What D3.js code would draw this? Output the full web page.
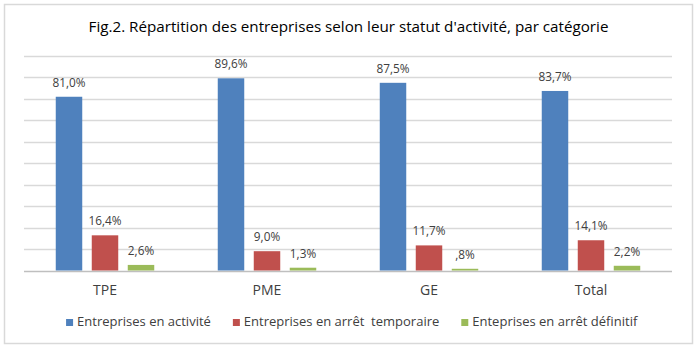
<!DOCTYPE html>
<html>
<head>
<meta charset="utf-8">
<script src="https://cdn.jsdelivr.net/npm/d3@7"></script>
<style>
  body { margin: 0; background: #fff; }
  svg { display: block; }
</style>
</head>
<body>
<div id="chart"></div>
<script>
// data
var categories = ["TPE", "PME", "GE", "Total"];
var seriesNames = [
  "Entreprises en activité",
  "Entreprises en arrêt  temporaire",
  "Enteprises en arrêt définitif"
];
var activite = [81.0, 89.6, 87.5, 83.7];
var arretTemporaire = [16.4, 9.0, 11.7, 14.1];
var arretDefinitif = [2.6, 1.3, 0.8, 2.2];
var valueLabels = [
  ["81,0%", "89,6%", "87,5%", "83,7%"],
  ["16,4%", "9,0%", "11,7%", "14,1%"],
  ["2,6%", "1,3%", ",8%", "2,2%"]
];
var yTicks = [0, 10, 20, 30, 40, 50, 60, 70, 80, 90, 100];

var width = 700, height = 350;
var margin = { top: 56, right: 28, bottom: 79.5, left: 24 };
var font = "'Open Sans', 'Noto Sans', sans-serif";
var colors = ["#4f81bd", "#c0504d", "#9bbb59"];

var seriesValues = [activite, arretTemporaire, arretDefinitif];

var svg = d3.select("#chart").append("svg")
  .attr("width", width)
  .attr("height", height);

// outer frame
svg.append("rect")
  .attr("x", 4.5).attr("y", 4.5)
  .attr("width", 688).attr("height", 339)
  .attr("fill", "#fff")
  .attr("stroke", "#d9d9d9")
  .attr("stroke-width", 1.5);

// title
svg.append("text")
  .attr("x", 348.5)
  .attr("y", 32)
  .attr("text-anchor", "middle")
  .attr("font-family", font)
  .attr("font-size", "15.2px")
  .attr("fill", "#000")
  .text("Fig.2. Répartition des entreprises selon leur statut d'activité, par catégorie");

var x0 = d3.scaleBand()
  .domain(categories)
  .range([margin.left, width - margin.right]);

var x1 = d3.scaleBand()
  .domain(d3.range(seriesNames.length))
  .range([0, x0.bandwidth()])
  .paddingInner(0.264)
  .paddingOuter(0.882);

var y = d3.scaleLinear()
  .domain([0, 100])
  .range([height - margin.bottom, margin.top]);

// gridlines
svg.append("g")
  .selectAll("line")
  .data(yTicks)
  .join("line")
  .attr("x1", margin.left)
  .attr("x2", width - margin.right)
  .attr("y1", function (d) { return Math.round(y(d)) + 0.5; })
  .attr("y2", function (d) { return Math.round(y(d)) + 0.5; })
  .attr("stroke", function (d) { return d === 0 ? "#bfbfbf" : "#d9d9d9"; })
  .attr("stroke-width", 1.5);

// bars
var groups = svg.append("g")
  .selectAll("g")
  .data(categories)
  .join("g")
  .attr("transform", function (d) { return "translate(" + x0(d) + ",0)"; });

function cells(d, i) {
  return seriesValues.map(function (vals, s) {
    return { s: s, v: vals[i], label: valueLabels[s][i] };
  });
}

groups.selectAll("rect")
  .data(cells)
  .join("rect")
  .attr("x", function (d) { return x1(d.s); })
  .attr("width", x1.bandwidth())
  .attr("y", function (d) { return y(d.v); })
  .attr("height", function (d) { return y(0) - y(d.v); })
  .attr("fill", function (d) { return colors[d.s]; });

// value labels
groups.selectAll("text")
  .data(cells)
  .join("text")
  .attr("x", function (d) { return x1(d.s) + x1.bandwidth() / 2; })
  .attr("y", function (d) { return y(d.v) - 10; })
  .attr("text-anchor", "middle")
  .attr("font-family", font)
  .attr("font-size", "11.8px")
  .attr("fill", "#404040")
  .text(function (d) { return d.label; });

// category labels
svg.append("g")
  .selectAll("text")
  .data(categories)
  .join("text")
  .attr("x", function (d) { return x0(d) + x0.bandwidth() / 2; })
  .attr("y", 295)
  .attr("text-anchor", "middle")
  .attr("font-family", font)
  .attr("font-size", "14px")
  .attr("fill", "#404040")
  .text(function (d) { return d; });

// legend
var legend = svg.append("g");
var items = legend.selectAll("g")
  .data(seriesNames)
  .join("g");

items.append("rect")
  .attr("width", 7)
  .attr("height", 7)
  .attr("y", -7)
  .attr("fill", function (d, i) { return colors[i]; });

items.append("text")
  .attr("x", 11)
  .attr("y", 0)
  .attr("font-family", font)
  .attr("font-size", "13px")
  .attr("fill", "#404040")
  .style("white-space", "pre")
  .text(function (d) { return d; });

var offset = 0;
items.each(function () {
  var w = this.getBBox().width;
  d3.select(this).attr("transform", "translate(" + offset + ",0)");
  offset += w + 22;
});
var total = offset - 22;
legend.attr("transform", "translate(" + (352 - total / 2) + ",326)");
</script>
</body>
</html>
